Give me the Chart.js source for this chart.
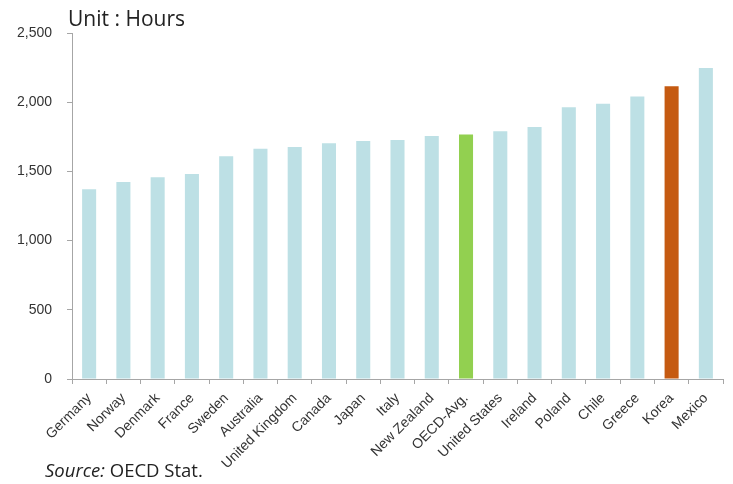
<!DOCTYPE html>
<html>
<head>
<meta charset="utf-8">
<script src="https://cdn.jsdelivr.net/npm/chart.js@4/dist/chart.umd.min.js"></script>
<style>
  html, body { margin: 0; padding: 0; background: #fff; }
  #wrap { position: relative; width: 733px; height: 484px; }
  #unit { position: absolute; left: 68px; top: 4px; font-family: "Open Sans", "Noto Sans", sans-serif; font-size: 21px; color: #222; white-space: nowrap; }
  #source { position: absolute; left: 45px; top: 457px; font-family: "Open Sans", "Noto Sans", sans-serif; font-size: 18.5px; color: #222; white-space: nowrap; }
</style>
</head>
<body>
<div id="wrap">
  <canvas id="c" width="733" height="484"></canvas>
  <div id="unit">Unit : Hours</div>
  <div id="source"><i>Source:</i> OECD Stat.</div>
</div>
<script>
// Annual hours actually worked per worker
const countries = ["Germany", "Norway", "Denmark", "France", "Sweden", "Australia", "United Kingdom", "Canada", "Japan", "Italy", "New Zealand", "OECD-Avg.", "United States", "Ireland", "Poland", "Chile", "Greece", "Korea", "Mexico"];
const hours = [1371, 1424, 1457, 1481, 1609, 1664, 1677, 1704, 1719, 1727, 1756, 1766, 1790, 1821, 1963, 1989, 2042, 2116, 2248];
const yTicks = [0, 500, 1000, 1500, 2000, 2500];

const baseColor = "#bde0e5";
const highlight = { "OECD-Avg.": "#92d050", "Korea": "#c55a11" };
const barColors = countries.map(c => highlight[c] || baseColor);

const axisColor = "#a6a6a6";
const textColor = "#333333";
const tickFont = "'Liberation Sans', Arial, sans-serif";

new Chart(document.getElementById("c"), {
  type: "bar",
  data: {
    labels: countries,
    datasets: [{
      data: hours,
      backgroundColor: barColors,
      borderWidth: 0,
      categoryPercentage: 1,
      barPercentage: 0.41
    }]
  },
  options: {
    responsive: false,
    animation: false,
    layout: { padding: { left: 0, top: 33, right: 10, bottom: 0 } },
    plugins: { legend: { display: false }, tooltip: { enabled: false } },
    scales: {
      x: {
        grid: { display: true, drawOnChartArea: false, drawTicks: true, tickLength: 5, color: axisColor, offset: true },
        border: { display: true, color: axisColor, width: 1 },
        ticks: {
          color: textColor,
          font: { family: tickFont, size: 14 },
          minRotation: 45, maxRotation: 45, autoSkip: false, padding: 6
        },
        afterFit: s => { s.height = 105; }
      },
      y: {
        min: 0, max: 2500,
        afterBuildTicks: s => { s.ticks = yTicks.map(v => ({ value: v })); },
        grid: { display: true, drawOnChartArea: false, drawTicks: true, tickLength: 5, color: axisColor },
        border: { display: true, color: axisColor, width: 1 },
        ticks: {
          color: textColor,
          font: { family: tickFont, size: 14 },
          padding: 15,
          callback: v => v.toLocaleString("en-US")
        },
        afterFit: s => { s.width = 72; }
      }
    }
  }
});
</script>
</body>
</html>
